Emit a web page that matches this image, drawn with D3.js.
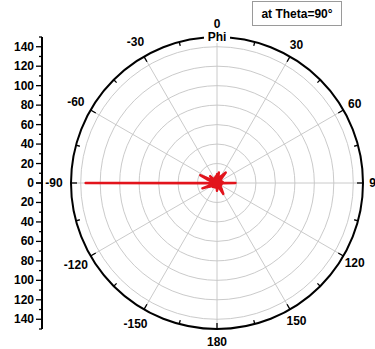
<!DOCTYPE html>
<html>
<head>
<meta charset="utf-8">
<script src="https://cdn.jsdelivr.net/npm/d3@7"></script>
<style>
  body { margin: 0; background: #fff; }
  svg { display: block; font-family: "Liberation Sans", Arial, sans-serif; font-weight: bold; }
</style>
</head>
<body>
<div id="chart"></div>
<script>
// pattern data: phi in degrees, magnitude in radial units
const phiDeg = [-180, -175, -170, -165, -160, -155, -150, -145, -140, -135, -130, -125,
  -120, -115, -110, -105, -100, -95, -90, -85, -80, -75, -70, -65,
  -60, -55, -50, -45, -40, -35, -30, -25, -20, -15, -10, -5,
  0, 5, 10, 15, 20, 25, 30, 35, 40, 45, 50, 55,
  60, 65, 70, 75, 80, 85, 90, 95, 100, 105, 110, 115,
  120, 125, 130, 135, 140, 145, 150, 155, 160, 165, 170, 175];
const magnitude = [8, 4, 5, 3, 4, 5, 4, 3, 5, 6, 4, 5,
  7, 9, 16, 5, 4, 3, 135, 3, 5, 4, 11, 19,
  6, 4, 5, 10, 4, 5, 4, 5, 6, 5, 7, 5,
  9, 7, 11, 5, 4, 6, 8, 10, 14, 7, 5, 4,
  5, 4, 5, 4, 6, 5, 19, 5, 4, 5, 4, 3,
  4, 5, 4, 5, 7, 9, 13, 6, 4, 5, 4, 6];
const gridRadii = [20, 40, 60, 80, 100, 120, 140];
const angleLabels = [0, 30, 60, 90, 120, 150, 180, -150, -120, -90, -60, -30];
const radialTicks = [0, 20, 40, 60, 80, 100, 120, 140];
const legendText = "at Theta=90\u00b0";
const centerLabel = "Phi";

const width = 375, height = 349;
const cx = 217, cy = 183, R = 146;
const rMax = 150;

const svg = d3.select("#chart").append("svg")
  .attr("width", width).attr("height", height);

const r = d3.scaleLinear().domain([0, rMax]).range([0, R]);
const rad = (d) => d * Math.PI / 180;

const g = svg.append("g").attr("transform", `translate(${cx},${cy})`);

// grid circles
g.selectAll("circle.grid").data(gridRadii).join("circle")
  .attr("class", "grid")
  .attr("r", d => r(d))
  .attr("fill", "none")
  .attr("stroke", "#c4c4c4")
  .attr("stroke-width", 0.9);

// spokes every 30 deg
const spokes = d3.range(0, 360, 30);
g.selectAll("line.spoke").data(spokes).join("line")
  .attr("class", "spoke")
  .attr("x1", 0).attr("y1", 0)
  .attr("x2", d => r(rMax) * Math.sin(rad(d)))
  .attr("y2", d => -r(rMax) * Math.cos(rad(d)))
  .attr("stroke", "#c4c4c4")
  .attr("stroke-width", 0.9);

// outer circle
g.append("circle")
  .attr("r", r(rMax))
  .attr("fill", "none")
  .attr("stroke", "#000")
  .attr("stroke-width", 2);

// ticks on the outer circle, pointing inward
const outerTicks = d3.range(0, 360, 15);
g.selectAll("line.otick").data(outerTicks).join("line")
  .attr("class", "otick")
  .attr("x1", d => r(rMax) * Math.sin(rad(d)))
  .attr("y1", d => -r(rMax) * Math.cos(rad(d)))
  .attr("x2", d => (r(rMax) - (d % 30 == 0 ? 6 : 4)) * Math.sin(rad(d)))
  .attr("y2", d => -(r(rMax) - (d % 30 == 0 ? 6 : 4)) * Math.cos(rad(d)))
  .attr("stroke", "#000")
  .attr("stroke-width", 1.3);

// angle labels
g.selectAll("text.alab").data(angleLabels).join("text")
  .attr("class", "alab")
  .attr("x", d => (d < 0 ? 163 : 159) * Math.sin(rad(d)))
  .attr("y", d => -(d < 0 ? 163 : 159) * Math.cos(rad(d)))
  .attr("text-anchor", "middle")
  .attr("dominant-baseline", "central")
  .style("font-size", "12px")
  .text(d => d);

// "Phi" label sitting on the circle
const phiLab = g.append("g").attr("transform", `translate(0,${-r(rMax)})`);
phiLab.append("rect")
  .attr("x", -13).attr("y", -7).attr("width", 26).attr("height", 13)
  .attr("fill", "#fff");
phiLab.append("text")
  .attr("text-anchor", "middle")
  .attr("dominant-baseline", "central")
  .style("font-size", "12px")
  .text(centerLabel);

// data line
const pts = phiDeg.map((p, i) => [rad(p), r(magnitude[i])]);
g.append("path")
  .datum(pts)
  .attr("fill", "none")
  .attr("stroke", "#e2141c")
  .attr("stroke-width", 2.4)
  .attr("stroke-linejoin", "round")
  .attr("d", d3.lineRadial().curve(d3.curveLinearClosed));
g.append("circle").attr("r", 5).attr("fill", "#e2141c");

// radial axis on the left
const axX = 42;
const yTop = d3.scaleLinear().domain([0, rMax]).range([cy, cy - R]);
const yBot = d3.scaleLinear().domain([0, rMax]).range([cy, cy + R]);
const ax = svg.append("g");
ax.append("line")
  .attr("x1", axX).attr("x2", axX)
  .attr("y1", yTop(rMax)).attr("y2", yBot(rMax))
  .attr("stroke", "#000").attr("stroke-width", 2);
const minor = d3.range(0, rMax + 1, 10);
for (const s of [yTop, yBot]) {
  ax.append("g").selectAll("line").data(minor).join("line")
    .attr("x1", d => d % 20 == 0 ? axX - 6 : axX - 3)
    .attr("x2", axX)
    .attr("y1", d => s(d)).attr("y2", d => s(d))
    .attr("stroke", "#000").attr("stroke-width", 1.3);
  ax.append("g").selectAll("text").data(s === yTop ? radialTicks : radialTicks.slice(1)).join("text")
    .attr("x", axX - 8)
    .attr("y", d => s(d))
    .attr("text-anchor", "end")
    .attr("dominant-baseline", "central")
    .style("font-size", "12px")
    .text(d => d);
}

// legend box
svg.append("rect")
  .attr("x", 252.5).attr("y", 1.5).attr("width", 89).attr("height", 24)
  .attr("fill", "#fff")
  .attr("stroke", "#9a9a9a").attr("stroke-width", 1);
svg.append("text")
  .attr("x", 297).attr("y", 14)
  .attr("text-anchor", "middle")
  .attr("dominant-baseline", "central")
  .style("font-size", "12px")
  .text(legendText);
</script>
</body>
</html>
